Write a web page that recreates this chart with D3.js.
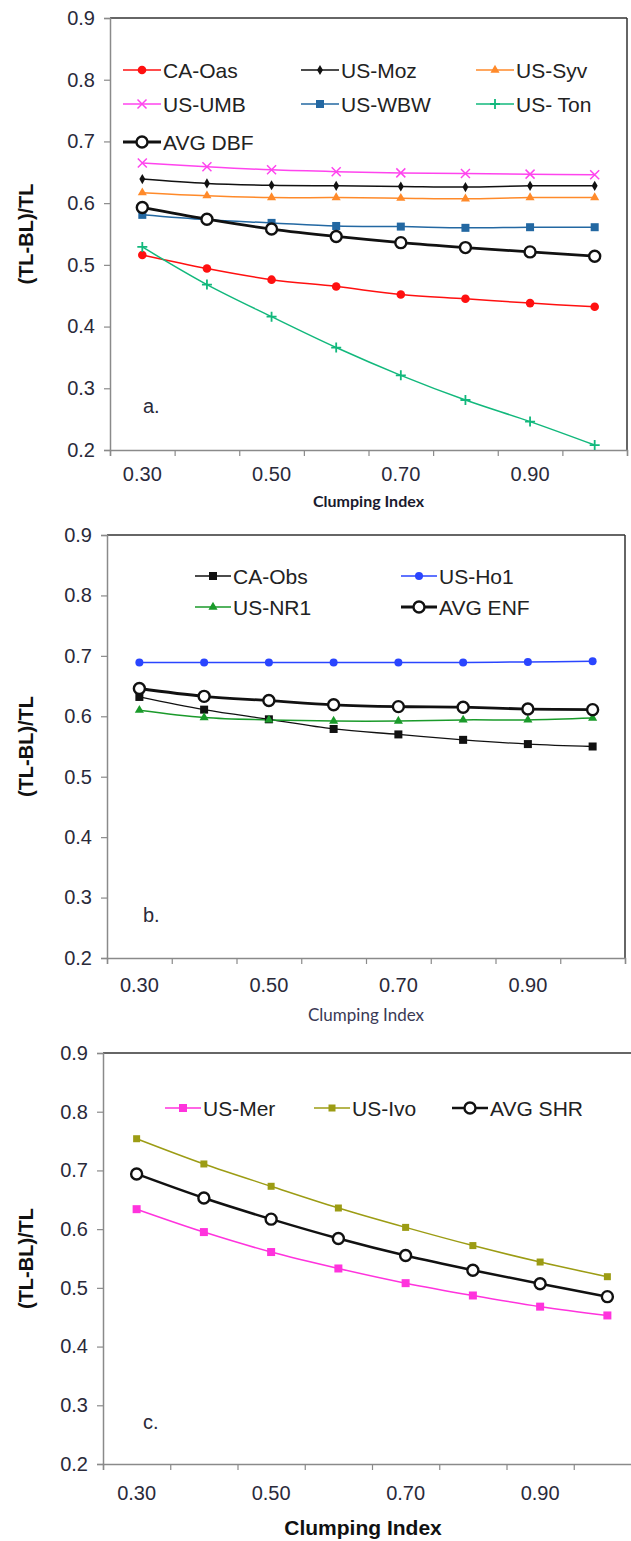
<!DOCTYPE html>
<html><head><meta charset="utf-8">
<script src="https://cdn.jsdelivr.net/npm/d3@7"></script>
<style>
html,body{margin:0;padding:0;background:#fff;}
svg{display:block;}
</style>
</head><body>
<svg id="chart" width="631" height="1541"></svg>
<script>
// ---- data ----
const categories = ["0.30","0.40","0.50","0.60","0.70","0.80","0.90","1.00"];
const xTickLabels = ["0.30","0.50","0.70","0.90"];
const yTickValues = [0.2,0.3,0.4,0.5,0.6,0.7,0.8,0.9];

// panel a (DBF)
const caOas  = [0.516,0.494,0.476,0.465,0.452,0.445,0.438,0.432];
const usMoz  = [0.639,0.632,0.629,0.628,0.627,0.626,0.628,0.628];
const usSyv  = [0.617,0.612,0.609,0.609,0.608,0.607,0.609,0.609];
const usUMB  = [0.665,0.659,0.654,0.651,0.649,0.648,0.647,0.646];
const usWBW  = [0.581,0.573,0.568,0.563,0.562,0.560,0.561,0.561];
const usTon  = [0.529,0.468,0.416,0.366,0.321,0.281,0.246,0.208];
const avgDBF = [0.593,0.574,0.558,0.546,0.536,0.528,0.521,0.514];

// panel b (ENF)
const caObs  = [0.632,0.611,0.595,0.579,0.570,0.561,0.554,0.550];
const usHo1  = [0.689,0.689,0.689,0.689,0.689,0.689,0.690,0.691];
const usNR1  = [0.610,0.598,0.594,0.592,0.592,0.594,0.594,0.597];
const avgENF = [0.646,0.633,0.626,0.619,0.616,0.615,0.612,0.611];

// panel c (SHR)
const usMer  = [0.634,0.595,0.561,0.533,0.508,0.487,0.468,0.453];
const usIvo  = [0.754,0.711,0.673,0.636,0.603,0.572,0.544,0.519];
const avgSHR = [0.694,0.653,0.617,0.584,0.555,0.530,0.507,0.485];

const panels = [
  {
    id:"a", label:"a.", box:{left:110,right:627,top:18,bottom:450}, rightBorder:true, topEnd:627, tickPad:17,
    xTitle:{text:"Clumping Index", y:507, size:16, weight:700, family:"Lato, 'Open Sans', sans-serif", color:"#1a1a2e"},
    series:[
      {name:"CA-Oas", values:caOas, color:"#ff1010", marker:"circle", lw:1.5},
      {name:"US-Moz", values:usMoz, color:"#111111", marker:"diamond", lw:1.5},
      {name:"US-Syv", values:usSyv, color:"#ff8a2a", marker:"triangle", lw:1.5},
      {name:"US-UMB", values:usUMB, color:"#ff44ee", marker:"x", lw:1.5},
      {name:"US-WBW", values:usWBW, color:"#2368a2", marker:"square", lw:1.5},
      {name:"US- Ton", values:usTon, color:"#12b87c", marker:"plus", lw:1.5},
      {name:"AVG DBF", values:avgDBF, color:"#111111", marker:"open", lw:2.8}
    ],
    legend:[
      {i:0,x:123,y:70},{i:1,x:301,y:70},{i:2,x:476,y:70},
      {i:3,x:123,y:104},{i:4,x:301,y:104},{i:5,x:476,y:104},
      {i:6,x:123,y:142}
    ], legendLine:38
  },
  {
    id:"b", label:"b.", box:{left:107,right:625,top:535,bottom:958}, rightBorder:true, topEnd:625, tickPad:20,
    xTitle:{text:"Clumping Index", y:1021, size:17, weight:400, family:"Lato, 'Open Sans', sans-serif", color:"#3a3a55"},
    series:[
      {name:"CA-Obs", values:caObs, color:"#111111", marker:"square", lw:1.3},
      {name:"US-Ho1", values:usHo1, color:"#2a45ff", marker:"dot", lw:1.5},
      {name:"US-NR1", values:usNR1, color:"#1a9a2a", marker:"triangle", lw:1.5},
      {name:"AVG ENF", values:avgENF, color:"#111111", marker:"open", lw:2.8}
    ],
    legend:[
      {i:0,x:195,y:576},{i:1,x:401,y:576},
      {i:2,x:195,y:607},{i:3,x:401,y:607}
    ], legendLine:36
  },
  {
    id:"c", label:"c.", box:{left:103,right:641,top:1053,bottom:1464}, rightBorder:false, topEnd:631, tickPad:22,
    xTitle:{text:"Clumping Index", y:1535, size:21, weight:700, family:"'Liberation Sans', Arial, sans-serif", color:"#111"},
    series:[
      {name:"US-Mer", values:usMer, color:"#ff33dd", marker:"square", lw:1.5},
      {name:"US-Ivo", values:usIvo, color:"#9c9c14", marker:"squareSmall", lw:1.5},
      {name:"AVG SHR", values:avgSHR, color:"#111111", marker:"open", lw:2.5}
    ],
    legend:[
      {i:0,x:165,y:1108},{i:1,x:314,y:1108},{i:2,x:452,y:1108}
    ], legendLine:36
  }
];

const svg = d3.select("#chart");
const tickFont = "'Liberation Sans', Arial, sans-serif";

function drawMarker(g, type, cx, cy, color){
  switch(type){
    case "circle":
      g.append("circle").attr("cx",cx).attr("cy",cy).attr("r",4.3).attr("fill",color); break;
    case "dot":
      g.append("circle").attr("cx",cx).attr("cy",cy).attr("r",4).attr("fill",color); break;
    case "diamond":
      g.append("path").attr("d",d3.symbol(d3.symbolDiamond,30)()).attr("transform",`translate(${cx},${cy})`).attr("fill",color); break;
    case "triangle":
      g.append("path").attr("d",d3.symbol(d3.symbolTriangle,36)()).attr("transform",`translate(${cx},${cy})`).attr("fill",color); break;
    case "square":
      g.append("rect").attr("x",cx-4).attr("y",cy-4).attr("width",8).attr("height",8).attr("fill",color); break;
    case "squareSmall":
      g.append("rect").attr("x",cx-3.5).attr("y",cy-3.5).attr("width",7).attr("height",7).attr("fill",color); break;
    case "x":
      g.append("path").attr("d",`M${cx-4.5},${cy-4.5}L${cx+4.5},${cy+4.5}M${cx-4.5},${cy+4.5}L${cx+4.5},${cy-4.5}`)
        .attr("stroke",color).attr("stroke-width",1.5).attr("fill","none"); break;
    case "plus":
      g.append("path").attr("d",`M${cx-5},${cy}L${cx+5},${cy}M${cx},${cy-5}L${cx},${cy+5}`)
        .attr("stroke",color).attr("stroke-width",1.8).attr("fill","none"); break;
    case "open":
      g.append("circle").attr("cx",cx).attr("cy",cy).attr("r",5.5).attr("fill","#fff").attr("stroke",color).attr("stroke-width",2.4); break;
  }
}

panels.forEach(p=>{
  const b = p.box;
  const g = svg.append("g").attr("class","panel-"+p.id);
  const x = d3.scaleBand().domain(categories).range([b.left,b.right]).padding(0);
  const xb = d3.scaleLinear().domain([0,categories.length]).range([b.left,b.right]);
  const y = d3.scaleLinear().domain([0.2,0.9]).range([b.bottom,b.top]);

  // top & right border
  g.append("line").attr("x1",b.left).attr("x2",p.topEnd).attr("y1",b.top).attr("y2",b.top)
    .attr("stroke","#333").attr("stroke-width",1.5);
  if(p.rightBorder){
    g.append("line").attr("x1",b.right).attr("x2",b.right).attr("y1",b.top).attr("y2",b.bottom)
      .attr("stroke","#333").attr("stroke-width",1.5);
  }

  // y axis
  const yAxis = d3.axisLeft(y).tickValues(yTickValues).tickFormat(d3.format(".1f")).tickSize(6).tickPadding(9);
  const ya = g.append("g").attr("transform",`translate(${b.left},0)`).call(yAxis);
  ya.select(".domain").attr("stroke","#8a8a8a").attr("stroke-width",1.5);
  ya.selectAll(".tick line").attr("stroke","#8a8a8a").attr("stroke-width",1.2);
  ya.selectAll(".tick text").attr("font-family",tickFont).attr("font-size",20).attr("fill","#2a2a3a");

  // x axis: ticks at band boundaries
  const xAxisTicks = d3.axisBottom(xb).tickValues(d3.range(categories.length+1)).tickFormat("").tickSize(6);
  const xa = g.append("g").attr("transform",`translate(0,${b.bottom})`).call(xAxisTicks);
  xa.select(".domain").attr("stroke","#8a8a8a").attr("stroke-width",1.5);
  xa.selectAll(".tick line").attr("stroke","#8a8a8a").attr("stroke-width",1.2);
  // x labels at band centers
  const xLab = d3.axisBottom(x).tickValues(xTickLabels).tickSize(0).tickPadding(p.tickPad);
  const xl = g.append("g").attr("transform",`translate(0,${b.bottom})`).call(xLab);
  xl.select(".domain").remove();
  xl.selectAll(".tick text").attr("font-family",tickFont).attr("font-size",20).attr("fill","#2a2a3a");

  // x title
  g.append("text").attr("x",(b.left+Math.min(b.right,631))/2 + (p.id==="c"?-4:0)).attr("y",p.xTitle.y)
    .attr("text-anchor","middle").attr("font-family",p.xTitle.family).attr("font-size",p.xTitle.size)
    .attr("font-weight",p.xTitle.weight).attr("fill",p.xTitle.color).text(p.xTitle.text);

  // y title
  const yc = (b.top+b.bottom)/2;
  g.append("text").attr("transform",`translate(33,${yc}) rotate(-90)`).attr("text-anchor","middle")
    .attr("font-family",tickFont).attr("font-size",20).attr("font-weight",700).attr("fill","#111")
    .text("(TL-BL)/TL");

  // panel label
  g.append("text").attr("x",143).attr("y",y(0.26)).attr("font-family",tickFont).attr("font-size",20)
    .attr("fill","#2a2a3a").text(p.label);

  // series
  const line = d3.line().x((d,i)=>x(categories[i])+x.bandwidth()/2).y(d=>y(d)).curve(d3.curveCatmullRom.alpha(0.5));
  const clipId = "clip-"+p.id;
  g.append("clipPath").attr("id",clipId).append("rect").attr("x",0).attr("y",b.top-10).attr("width",631).attr("height",b.bottom-b.top+20);
  const sg = g.append("g").attr("clip-path",`url(#${clipId})`);
  p.series.forEach(s=>{
    sg.append("path").datum(s.values).attr("d",line).attr("fill","none").attr("stroke",s.color).attr("stroke-width",s.lw);
  });
  p.series.forEach(s=>{
    s.values.forEach((v,i)=>drawMarker(sg,s.marker,x(categories[i])+x.bandwidth()/2,y(v),s.color));
  });

  // legend
  const lg = g.append("g").attr("class","legend");
  p.legend.forEach(L=>{
    const s = p.series[L.i];
    lg.append("line").attr("x1",L.x).attr("x2",L.x+p.legendLine).attr("y1",L.y).attr("y2",L.y)
      .attr("stroke",s.color).attr("stroke-width",s.lw);
    drawMarker(lg,s.marker,L.x+p.legendLine/2,L.y,s.color);
    lg.append("text").attr("x",L.x+p.legendLine+2).attr("y",L.y).attr("dy","0.36em")
      .attr("font-family",tickFont).attr("font-size",21).attr("fill","#222").text(s.name);
  });
});
</script>
</body></html>
